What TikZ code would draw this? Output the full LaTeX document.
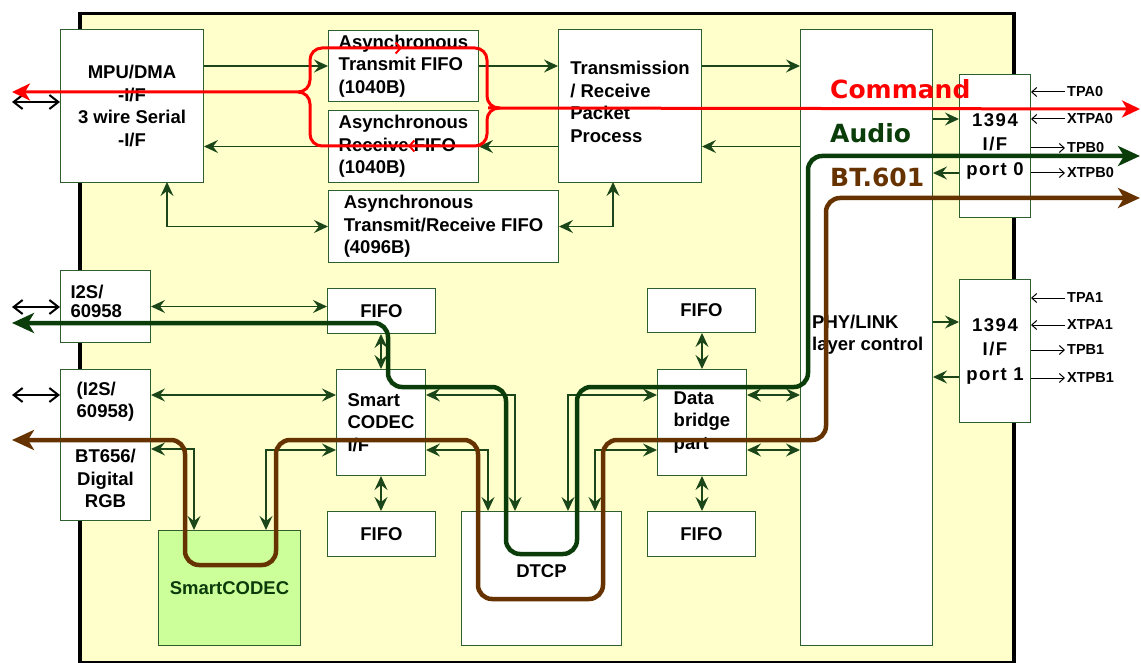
\documentclass[tikz,border=0pt]{standalone}
\usepackage{fontspec}
\setmainfont{Liberation Sans}
\newfontfamily\djv{DejaVu Sans}
\newfontfamily\portfont[LetterSpace=8]{Liberation Sans}
\usetikzlibrary{arrows.meta,calc}
\definecolor{fillY}{HTML}{FFFFCC}
\definecolor{bgr}{HTML}{2F5F2F}
\definecolor{cgr}{HTML}{1A461A}
\definecolor{agr}{HTML}{0A3D0A}
\definecolor{brn}{HTML}{663300}
\definecolor{sgr}{HTML}{CCFF99}
\definecolor{scg}{HTML}{0B3B0B}
\definecolor{cmdred}{HTML}{FF0000}
\tikzset{
  chip/.style={draw=black, line width=3.5pt, fill=fillY, anchor=north west, inner sep=0pt},
  box/.style={draw=bgr, line width=1pt, fill=white, anchor=north west, inner sep=0pt,
    font=\bfseries\fontsize{18.5}{22.5}\selectfont, align=left},
  portbox/.style={box, align=center, font=\portfont\bfseries\fontsize{18.5}{24.5}\selectfont},
  conn/.style={draw=cgr, line width=1.3pt, >={Stealth[length=14pt,width=13pt,inset=5pt]}},
  ext/.style={draw=black, line width=2pt, >={Straight Barb[length=9pt,width=14pt]}},
  pinline/.style={draw=black, line width=1pt, >={Straight Barb[length=5pt,width=9pt]}},
  pinlbl/.style={anchor=west, inner xsep=2pt, inner ysep=0pt, font=\bfseries\fontsize{14.5}{16}\selectfont},
  cmdline/.style={draw=cmdred, line width=3pt, rounded corners=12pt, >={Stealth[length=18pt,width=17pt,inset=5pt]}},
  audline/.style={draw=agr, line width=4.5pt, rounded corners=14pt, >={Stealth[length=22pt,width=20pt,inset=6pt]}},
  btline/.style={draw=brn, line width=4.5pt, rounded corners=14pt, >={Stealth[length=22pt,width=20pt,inset=6pt]}},
  big/.style={anchor=west, inner sep=0pt, font=\djv\bfseries\fontsize{25}{30}\selectfont}
}
\begin{document}
\begin{tikzpicture}[x=1pt,y=-1pt]
\useasboundingbox (0,0) rectangle (1141,663);
\node[chip, minimum width=934pt, minimum height=649pt] (chip) at (78,12) {};

% boxes
\node[box, minimum width=143pt, minimum height=153pt, align=center] (mpu) at (60,29) {MPU/DMA\\-I/F\\3 wire Serial\\-I/F};
\node[box, minimum width=150pt, minimum height=71pt] (atx) at (328,30) {Asynchronous\\Transmit FIFO\\(1040B)};
\node[box, minimum width=150pt, minimum height=72pt] (arx) at (328,110) {Asynchronous\\Receive FIFO\\(1040B)};
\node[box, minimum width=230pt, minimum height=72pt] (atrx) at (328,190) {Asynchronous\\Transmit/Receive FIFO\\(4096B)};
\node[box, minimum width=143pt, minimum height=153pt] (trp) at (558,29) {Transmission\\/ Receive\\Packet\\Process\\[-14.5pt]\mbox{}};
\node[box, minimum width=132pt, minimum height=616pt] (phy) at (800,29) {};
\node[portbox, minimum width=71pt, minimum height=143pt] (p0) at (959,74) {1394\\I/F\\port 0};
\node[portbox, minimum width=71pt, minimum height=143pt] (p1) at (959,279) {1394\\I/F\\port 1};
\node[box, minimum width=90pt, minimum height=72pt, text width=70pt, inner xsep=10pt] (i2s) at (60,270) {I2S/\\[-3pt]60958\\[-12pt]\mbox{}};
\node[box, minimum width=90pt, minimum height=151pt, align=center] (i2sb) at (60,369) {\rlap{(I2S/}\phantom{60958)}\\60958)\\[22.5pt]BT656/\\Digital\\RGB};
\node[box, minimum width=108pt, minimum height=45pt, align=center] (fifo1) at (327,288) {FIFO};
\node[box, minimum width=89pt, minimum height=106pt] (scif) at (336,369) {Smart\\CODEC\\I/F};
\node[box, minimum width=108pt, minimum height=45pt, align=center] (fifo2) at (327,511) {FIFO};
\node[box, minimum width=160pt, minimum height=134pt, align=center, text depth=14pt] (dtcp) at (461,511) {DTCP};
\node[box, fill=sgr, text=scg, minimum width=142pt, minimum height=115pt, align=center] (scodec) at (158,530) {SmartCODEC};
\node[box, minimum width=108pt, minimum height=44pt, align=center] (fifo3) at (647,288) {FIFO};
\node[box, minimum width=89pt, minimum height=106pt] (dbp) at (657,369) {Data\\bridge\\part};
\node[box, minimum width=108pt, minimum height=45pt, align=center] (fifo4) at (647,511) {FIFO};
\node[anchor=west, inner sep=0pt, font=\bfseries\fontsize{18.5}{22.5}\selectfont, align=left] (phylbl) at (812,334.5) {PHY/LINK\\layer control};

% helper coordinates
\coordinate (mpuB) at (167,182);
\coordinate (trpB) at (613,182);
\coordinate (p0a) at (959,119);
\coordinate (p0b) at (959,173);
\coordinate (p1a) at (959,322);
\coordinate (p1b) at (959,377);
\coordinate (extM) at (12,102);
\coordinate (extI) at (12,307);
\coordinate (extJ) at (12,395);
\coordinate (k0) at (336,395);
\coordinate (k1) at (194,449);
\coordinate (k2) at (266,450);
\coordinate (k3) at (515,395);
\coordinate (k4) at (488,450);
\coordinate (k5) at (568,395);
\coordinate (k6) at (595,450);

% thin connectors
\draw[conn,->] (mpu.east |- atx.west) -- (atx.west);
\draw[conn,->] (arx.west) -- (mpu.east |- arx.west);
\draw[conn,<->] (mpuB) |- (atrx.west);
\draw[conn,->] (atx.east) -- (trp.west |- atx.east);
\draw[conn,->] (trp.west |- arx.east) -- (arx.east);
\draw[conn,<->] (atrx.east) -| (trpB);
\draw[conn,->] (trp.east |- atx.east) -- (phy.west |- atx.east);
\draw[conn,->] (phy.west |- arx.east) -- (trp.east |- arx.east);
\draw[conn,->] (phy.east |- p0a) -- (p0a);
\draw[conn,->] (p0b) -- (phy.east |- p0b);
\draw[conn,->] (phy.east |- p1a) -- (p1a);
\draw[conn,->] (p1b) -- (phy.east |- p1b);
\draw[conn,<->] (i2s.east) -- (fifo1.west |- i2s.east);
\draw[conn,<->] (i2sb.east |- k0) -- (k0);
\draw[conn,<->] (i2sb.east |- k1) -| (scodec.north -| k1);
\draw[conn,<->] (scif.west |- k2) -| (scodec.north -| k2);
\draw[conn,<->] (fifo1.south -| scif.north) -- (scif.north);
\draw[conn,<->] (scif.south) -- (fifo2.north -| scif.south);
\draw[conn,<->] (scif.east |- k3) -| (dtcp.north -| k3);
\draw[conn,<->] (scif.east |- k4) -| (dtcp.north -| k4);
\draw[conn,<->] (dbp.west |- k5) -| (dtcp.north -| k5);
\draw[conn,<->] (dbp.west |- k6) -| (dtcp.north -| k6);
\draw[conn,<->] (fifo3.south -| dbp.north) -- (dbp.north);
\draw[conn,<->] (dbp.south) -- (fifo4.north -| dbp.south);
\draw[conn,<->] (dbp.east |- k5) -- (phy.west |- k5);
\draw[conn,<->] (dbp.east |- k6) -- (phy.west |- k6);
\draw[ext,<->] (extM) -- (mpu.west |- extM);
\draw[ext,<->] (extI) -- (i2s.west |- extI);
\draw[ext,<->] (extJ) -- (i2sb.west |- extJ);

% pins
\node[pinlbl] (tpa0) at (1065,92) {TPA0};
\node[pinlbl] (xtpa0) at (1065,119) {XTPA0};
\node[pinlbl] (tpb0) at (1065,148) {TPB0};
\node[pinlbl] (xtpb0) at (1065,173) {XTPB0};
\node[pinlbl] (tpa1) at (1065,298) {TPA1};
\node[pinlbl] (xtpa1) at (1065,325) {XTPA1};
\node[pinlbl] (tpb1) at (1065,350) {TPB1};
\node[pinlbl] (xtpb1) at (1065,378) {XTPB1};
\draw[pinline,->] (tpa0.west) -- (p0.east |- tpa0.west);
\draw[pinline,->] (xtpa0.west) -- (p0.east |- xtpa0.west);
\draw[pinline,->] (p0.east |- tpb0.west) -- (tpb0.west);
\draw[pinline,->] (p0.east |- xtpb0.west) -- (xtpb0.west);
\draw[pinline,->] (tpa1.west) -- (p1.east |- tpa1.west);
\draw[pinline,->] (xtpa1.west) -- (p1.east |- xtpa1.west);
\draw[pinline,->] (p1.east |- tpb1.west) -- (tpb1.west);
\draw[pinline,->] (p1.east |- xtpb1.west) -- (xtpb1.west);

% thick signal paths
\coordinate (cmdL) at (12,92);
\coordinate (cmdR) at (1140,109);
\coordinate (audL) at (12,323);
\coordinate (audR) at (1140,156);
\coordinate (btL) at (12,440);
\coordinate (btR) at (1140,198);
\draw[cmdline,<->] (cmdL) -- (310,92) -- (310,48) -- (487,48) -- (487,108) -- (500,108) -- (cmdR);
\draw[cmdline] (298,92) -- (310,92) -- (310,146) -- (487,146) -- (487,108) -- (500,108);
\draw[draw=cmdred, line width=2pt, -{Straight Barb[length=5pt,width=11pt]}] (392,48) -- (402,48);
\draw[draw=cmdred, line width=2pt, -{Straight Barb[length=5pt,width=11pt]}] (418,146) -- (408,146);
\draw[audline,<->] (audL) -- (388,323) -- (388,387) -- (506,387) -- (506,554) -- (577,554) -- (577,387) -- (808,387) -- (808,156) -- (audR);
\draw[btline,<->] (btL) -- (185,440) -- (185,565) -- (276,565) -- (276,440) -- (478,440) -- (478,599) -- (603,599) -- (603,440) -- (826,440) -- (826,198) -- (btR);

% signal labels
\node[big, text=cmdred] (lcmd) at (830,89) {Command};
\node[big, text=agr] (laud) at (830,133) {Audio};
\node[big, text=brn] (lbt) at (830,177) {BT.601};
\end{tikzpicture}
\end{document}
